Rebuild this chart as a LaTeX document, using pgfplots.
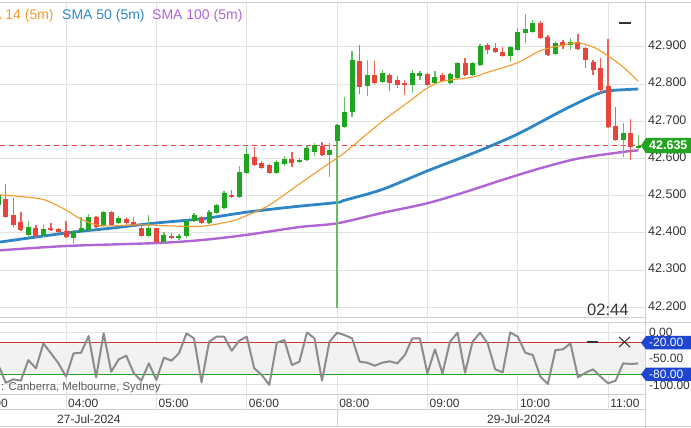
\documentclass[border=0pt]{standalone}
\usepackage{fontspec}
\setmainfont{Liberation Sans}
\usepackage{pgfplots}
\usepackage{pgfplotstable}
\pgfplotsset{compat=1.18}

\definecolor{upc}{HTML}{1FA51F}
\definecolor{dnc}{HTML}{E8453C}
\definecolor{smaA}{HTML}{F39A2B}
\definecolor{smaB}{HTML}{2F86C6}
\definecolor{smaC}{HTML}{B064D6}
\definecolor{gridc}{HTML}{E2E2E2}
\definecolor{framec}{HTML}{CFCFCF}
\definecolor{labc}{HTML}{333333}
\definecolor{wprc}{HTML}{8C8C8C}
\definecolor{bandc}{HTML}{F2F2F2}
\definecolor{boxb}{HTML}{1E44D2}
\definecolor{lastg}{HTML}{22A322}
\definecolor{lastline}{HTML}{F03C30}

% 5 min candles, i = 0 is 04:00 (07:00 hour is missing)
\pgfplotstableread{
i o h l c
-9 42.475 42.510 42.467 42.502
-5 42.395 42.432 42.389 42.416
-3 42.392 42.422 42.389 42.411
1 42.387 42.408 42.373 42.405
2 42.403 42.443 42.403 42.413
3 42.408 42.451 42.405 42.443
5 42.419 42.459 42.416 42.456
7 42.427 42.446 42.424 42.440
11 42.392 42.448 42.389 42.413
13 42.376 42.403 42.373 42.395
15 42.387 42.397 42.381 42.392
16 42.392 42.435 42.387 42.432
17 42.432 42.454 42.430 42.448
19 42.427 42.462 42.424 42.456
20 42.454 42.478 42.451 42.475
21 42.467 42.513 42.465 42.508
23 42.497 42.580 42.494 42.564
24 42.561 42.631 42.559 42.612
28 42.561 42.596 42.559 42.591
29 42.585 42.607 42.580 42.599
31 42.591 42.602 42.588 42.596
32 42.596 42.637 42.594 42.628
33 42.618 42.642 42.607 42.637
35 42.610 42.642 42.551 42.623
36 42.647 42.693 42.198 42.690
37 42.685 42.766 42.682 42.725
38 42.725 42.889 42.712 42.865
40 42.795 42.865 42.768 42.825
42 42.806 42.838 42.803 42.830
46 42.798 42.838 42.776 42.830
47 42.822 42.835 42.811 42.830
49 42.803 42.835 42.801 42.819
51 42.803 42.830 42.801 42.827
52 42.817 42.860 42.814 42.857
54 42.825 42.860 42.822 42.857
55 42.852 42.908 42.849 42.903
59 42.876 42.903 42.860 42.900
60 42.892 42.951 42.889 42.940
61 42.938 42.989 42.911 42.948
62 42.940 42.973 42.938 42.965
65 42.881 42.916 42.878 42.911
67 42.905 42.924 42.892 42.913
74 42.650 42.696 42.604 42.669
76 42.628 42.663 42.623 42.635
}\upbars

\pgfplotstableread{
i o h l c
-8 42.491 42.532 42.440 42.443
-7 42.448 42.494 42.416 42.422
-6 42.430 42.456 42.405 42.408
-4 42.413 42.422 42.389 42.392
-2 42.413 42.427 42.405 42.408
-1 42.411 42.413 42.400 42.403
0 42.405 42.432 42.387 42.389
4 42.443 42.446 42.413 42.416
6 42.456 42.459 42.419 42.422
8 42.438 42.443 42.422 42.427
9 42.430 42.443 42.419 42.419
10 42.413 42.422 42.389 42.392
12 42.413 42.413 42.373 42.376
14 42.392 42.400 42.384 42.387
18 42.443 42.446 42.424 42.427
22 42.502 42.516 42.494 42.497
25 42.604 42.631 42.580 42.583
26 42.588 42.594 42.572 42.575
27 42.583 42.585 42.559 42.561
30 42.599 42.618 42.577 42.588
34 42.634 42.645 42.607 42.610
39 42.862 42.905 42.774 42.792
41 42.825 42.862 42.801 42.803
43 42.825 42.830 42.782 42.803
44 42.811 42.822 42.790 42.798
45 42.803 42.811 42.771 42.798
48 42.827 42.830 42.795 42.798
50 42.825 42.830 42.806 42.809
53 42.857 42.870 42.822 42.825
56 42.905 42.911 42.881 42.892
57 42.897 42.911 42.884 42.887
58 42.887 42.900 42.873 42.876
63 42.965 42.970 42.921 42.924
64 42.927 42.932 42.876 42.878
66 42.913 42.919 42.895 42.903
68 42.913 42.935 42.892 42.895
69 42.897 42.900 42.844 42.865
70 42.860 42.865 42.825 42.838
71 42.844 42.870 42.776 42.784
72 42.795 42.921 42.682 42.685
73 42.688 42.739 42.647 42.650
75 42.669 42.706 42.596 42.631
}\dnbars

\pgfplotstableread{
i v
-9 42.503
-6 42.498
-3 42.490
-1 42.472
0 42.462
2 42.437
4 42.422
6 42.419
10 42.422
14 42.419
18 42.418
22 42.432
24 42.447
27 42.475
31 42.532
35 42.588
37 42.616
42 42.700
46 42.760
48 42.790
50 42.808
54 42.819
56 42.832
60 42.858
63 42.890
66 42.905
68 42.911
70 42.900
72 42.876
74 42.846
76 42.808
}\smafast

\pgfplotstableread{
i v
-9 42.375
0 42.400
6 42.413
12 42.427
18 42.438
24 42.456
30 42.470
36 42.482
37 42.488
42 42.517
48 42.567
53 42.606
55 42.622
60 42.666
66 42.730
70 42.769
72 42.782
76 42.787
}\smamid

\pgfplotstableread{
i v
-9 42.353
0 42.365
12 42.373
18 42.381
24 42.395
31 42.416
36 42.426
42 42.454
48 42.480
53 42.510
58 42.543
63 42.574
68 42.600
74 42.618
76 42.622
}\smaslow

% last price, drawn across the panel
\pgfplotstableread{
i v
-8.77 42.635
76.9 42.635
}\lastprice

% Williams %R
\pgfplotstableread{
i r
-9 -62
-8 -96
-7 -89.5
-6 -92
-5 -53
-4 -68.6
-3 -21.3
-2 -40.2
-1 -59.2
0 -84.4
1 -40.2
2 -39
3 -7.4
4 -85.7
5 -2
6 -75
7 -51.6
8 -44.6
9 -78
10 -92
11 -59.2
12 -90.8
13 -48.4
14 -54.1
15 -40.2
16 -2.3
17 -11.8
18 -95.2
19 -18.1
20 -8.6
21 -8.6
22 -35.2
23 -16.2
24 -8.6
25 -68.6
26 -81.3
27 -100
28 -20
29 -15
30 -62.3
31 -56
32 -0.5
33 -11.8
34 -92
35 -18
36 -1
37 -5.5
38 -11.8
39 -56
40 -57.9
41 -63.6
42 -57.9
43 -55.4
44 -59.2
45 -43.4
46 -11.8
47 -11.8
48 -78.1
49 -32.6
50 -78.1
51 -18.1
52 -1
53 -76.9
54 -18.1
55 -1
56 -21.3
57 -70.5
58 -76.2
59 -0.5
60 -8.6
61 -39
62 -43.4
63 -84.4
64 -98.3
65 -33.9
66 -32.6
67 -21.3
68 -85.7
69 -76.9
70 -70.5
71 -84.4
72 -97
73 -92
74 -59.2
75 -60.4
76 -59.2
}\willr

\pgfplotsset{
  wick/.style={draw=none, mark=none, forget plot,
    error bars/.cd, y dir=both, y explicit, error mark=none,
    error bar style={draw=#1, line width=1.3pt}},
  body/.style={draw=none, mark=none, forget plot,
    error bars/.cd, y dir=both, y explicit, error mark=none,
    error bar style={draw=#1, line width=5pt}},
}

\begin{document}
\begin{tikzpicture}
\useasboundingbox (0pt,0pt) rectangle (691pt,428pt);

\begin{axis}[
  at={(0pt,110pt)}, anchor=south west, scale only axis,
  width=645pt, height=315pt,
  xmin=-8.77, xmax=76.9, ymin=42.1715, ymax=43.0183,
  axis line style={draw=none},
  xtick={0,12,...,72}, xticklabels={},
  ytick={42.2,42.3,42.4,42.5,42.6,42.7,42.8,42.9},
  grid=major, grid style={gridc, line width=1pt},
  major tick length=0pt,
  yticklabel pos=right,
  yticklabel style={anchor=west, inner sep=1pt, xshift=2pt, yshift=1.5pt,
    text=labc, font=\fontsize{12.5}{14}\selectfont},
  /pgf/number format/.cd, fixed, fixed zerofill, precision=3, assume math mode=true,
]
\addplot[draw=lastline, line width=1.2pt, dash pattern=on 5pt off 4pt, forget plot]
  table[x=i, y=v] {\lastprice};

\addplot[smaC, line width=2.4pt, smooth] table[x=i, y=v] {\smaslow};
\addplot[smaB, line width=2.8pt, smooth] table[x=i, y=v] {\smamid};

\addplot[wick=upc!70] table[x=i, y expr={(\thisrow{h}+\thisrow{l})/2},
  y error expr={(\thisrow{h}-\thisrow{l})/2}] {\upbars};
\addplot[wick=dnc!85] table[x=i, y expr={(\thisrow{h}+\thisrow{l})/2},
  y error expr={(\thisrow{h}-\thisrow{l})/2}] {\dnbars};
\addplot[body=upc] table[x=i, y expr={(\thisrow{o}+\thisrow{c})/2},
  y error expr={max(abs(\thisrow{o}-\thisrow{c})/2,0.0016)}] {\upbars};
\addplot[body=dnc] table[x=i, y expr={(\thisrow{o}+\thisrow{c})/2},
  y error expr={max(abs(\thisrow{o}-\thisrow{c})/2,0.0016)}] {\dnbars};

\addplot[smaA, line width=1.1pt, smooth] table[x=i, y=v] {\smafast};
\end{axis}

\begin{axis}[
  at={(0pt,33pt)}, anchor=south west, scale only axis,
  width=645pt, height=72pt,
  xmin=-8.77, xmax=76.9, ymin=-119.2, ymax=17.4,
  axis line style={draw=none},
  xtick={0,12,...,72}, xticklabels={},
  ytick={0,-50,-100},
  grid=major, grid style={gridc, line width=1pt},
  major tick length=0pt,
  yticklabel pos=right,
  yticklabel style={anchor=west, inner sep=1pt, xshift=3pt,
    text=labc, font=\fontsize{12}{14}\selectfont},
  /pgf/number format/.cd, fixed, fixed zerofill, precision=2, assume math mode=true,
]
\addplot[draw=none, fill=bandc, forget plot]
  coordinates {(-8.77,-20) (76.9,-20) (76.9,-80) (-8.77,-80)} -- cycle;
\addplot[draw=dnc!85!black, line width=1pt, forget plot]
  coordinates {(-8.77,-20) (76.9,-20)};
\addplot[draw=upc, line width=1pt, forget plot]
  coordinates {(-8.77,-80) (76.9,-80)};
\addplot[wprc, line width=2pt, line join=round] table[x=i, y=r] {\willr};
\end{axis}

% frame lines
\draw[framec, line width=1pt] (0pt,425pt) -- (691pt,425pt);
\draw[framec, line width=1pt] (0pt,110pt) -- (645pt,110pt);
\draw[framec, line width=1pt] (0pt,105pt) -- (691pt,105pt);
\draw[framec, line width=1pt] (0pt,33pt) -- (645pt,33pt);
\draw[framec, line width=1pt] (0pt,18pt) -- (645pt,18pt);
\draw[framec, line width=1pt] (0pt,1pt) -- (691pt,1pt);
\draw[framec, line width=1pt] (645pt,0pt) -- (645pt,425pt);
\draw[framec, line width=1pt] (337pt,1pt) -- (337pt,18pt);
\foreach \gx in {66,156.4,246.7,337.1,427.4,517.8,608.2}
  \draw[gridc, line width=1pt] (\gx pt,33pt) -- (\gx pt,18pt);

% legend
\node[anchor=base west, inner sep=0pt, text=smaA, font=\fontsize{14}{16}\selectfont] at (-29pt,408pt) {SMA 14 (5m)};
\node[anchor=base west, inner sep=0pt, text=smaB, font=\fontsize{14}{16}\selectfont] at (62pt,408pt) {SMA 50 (5m)};
\node[anchor=base west, inner sep=0pt, text=smaC, font=\fontsize{14}{16}\selectfont] at (152pt,408pt) {SMA 100 (5m)};

% countdown and panel buttons
\node[anchor=base west, inner sep=0pt, text=labc, font=\fontsize{16.5}{18}\selectfont] at (587pt,112pt) {02:44};
\draw[labc, line width=1.5pt] (619pt,405pt) -- (631pt,405pt);
\draw[labc, line width=1.5pt] (587pt,86pt) -- (598pt,86pt);
\draw[labc, line width=1.1pt] (619pt,91pt) -- (630pt,81pt);
\draw[labc, line width=1.1pt] (619pt,81pt) -- (630pt,91pt);

% last price tag
\fill[lastg] (641pt,282.4pt) -- (646pt,290pt) -- (691pt,290pt) -- (691pt,274.8pt) -- (646pt,274.8pt) -- cycle;
\node[anchor=base west, inner sep=0pt, text=white, font=\bfseries\fontsize{12.5}{14}\selectfont] at (649pt,278pt) {42.635};

% %R level tags
\fill[boxb] (641pt,85.3pt) -- (646pt,92pt) -- (691pt,92pt) -- (691pt,78.6pt) -- (646pt,78.6pt) -- cycle;
\node[anchor=base west, inner sep=0pt, text=white, font=\fontsize{12}{14}\selectfont] at (649pt,81pt) {-20.00};
\fill[boxb] (641pt,53.7pt) -- (646pt,60.4pt) -- (691pt,60.4pt) -- (691pt,47pt) -- (646pt,47pt) -- cycle;
\node[anchor=base west, inner sep=0pt, text=white, font=\fontsize{12}{14}\selectfont] at (649pt,49.4pt) {-80.00};

\node[anchor=base west, inner sep=0pt, text=labc!80, font=\fontsize{11.4}{13}\selectfont] at (1pt,37pt) {: Canberra, Melbourne, Sydney};

% time axis
\foreach \gx/\lab in {-24.4/03:00,66/04:00,156.4/05:00,246.7/06:00,337.1/08:00,427.4/09:00,517.8/10:00,608.2/11:00}
  \node[anchor=base west, inner sep=0pt, text=labc, font=\fontsize{12}{14}\selectfont] at (\gx pt+2pt,20.5pt) {\lab};
\node[anchor=base west, inner sep=0pt, text=labc, font=\fontsize{12}{14}\selectfont] at (57pt,4.7pt) {27-Jul-2024};
\node[anchor=base west, inner sep=0pt, text=labc, font=\fontsize{12}{14}\selectfont] at (487pt,4.7pt) {29-Jul-2024};
\end{tikzpicture}
\end{document}
